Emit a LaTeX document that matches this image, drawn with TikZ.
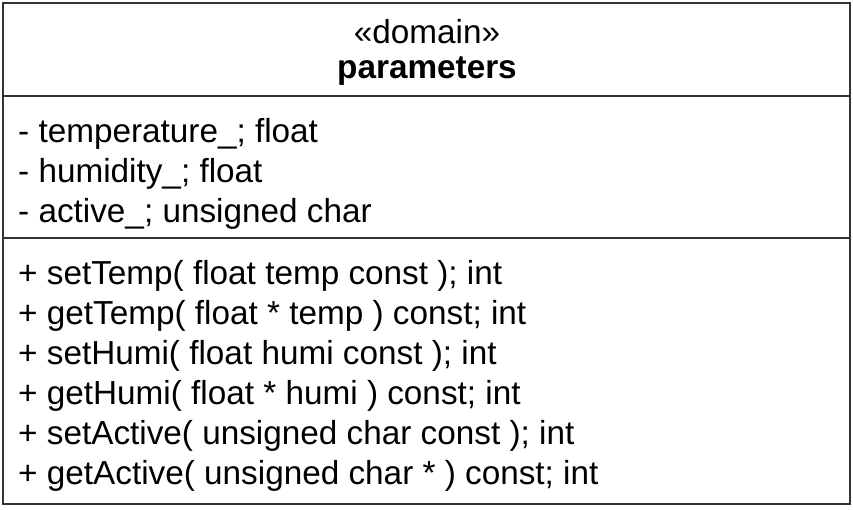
\documentclass[tikz,border=0pt]{standalone}
\usepackage{fontspec}
\setmainfont{Liberation Sans}
\usepackage{tikz}
\usetikzlibrary{positioning}

\tikzset{
  member/.style={anchor=base west, inner sep=0pt, font=\fontsize{33.3}{40}\selectfont},
  title/.style={anchor=base, inner sep=0pt, font=\fontsize{33.3}{40}\selectfont}
}

\begin{document}
\begin{tikzpicture}[x=1pt,y=-1pt]
    \useasboundingbox (0,0) rectangle (853,509);
    % class box and compartments
    \def\boxL{3}
    \def\boxR{850}
    \def\boxT{3}
    \def\boxB{504}
    \draw[line width=1.3pt, black!80] (\boxL,\boxT) rectangle (\boxR,\boxB);
    \draw[line width=1.1pt, black!80] (\boxL,96) -- (\boxR,96);
    \draw[line width=1.1pt, black!80] (\boxL,238) -- (\boxR,238);

    % Name compartment
    \node[title] (stereo) at (427,43) {«domain»};
    \node[title, font=\fontsize{33.3}{40}\selectfont\bfseries] (name) at (427,78) {parameters};

    % Attributes
    \node[member] (temp) at (18,142) {- temperature\_; float};
    \node[member] (humi) at (18,182) {- humidity\_; float};
    \node[member] (active) at (18,222) {- active\_; unsigned char};

    % Operations
    \node[member] (setT) at (18,284) {+ setTemp( float temp const ); int};
    \node[member] (getT) at (18,324) {+ getTemp( float * temp ) const; int};
    \node[member] (setH) at (18,364) {+ setHumi( float humi const ); int};
    \node[member] (getH) at (18,404) {+ getHumi( float * humi ) const; int};
    \node[member] (setA) at (18,444) {+ setActive( unsigned char const ); int};
    \node[member] (getA) at (18,484) {+ getActive( unsigned char * ) const; int};
  \end{tikzpicture}
\end{document}
